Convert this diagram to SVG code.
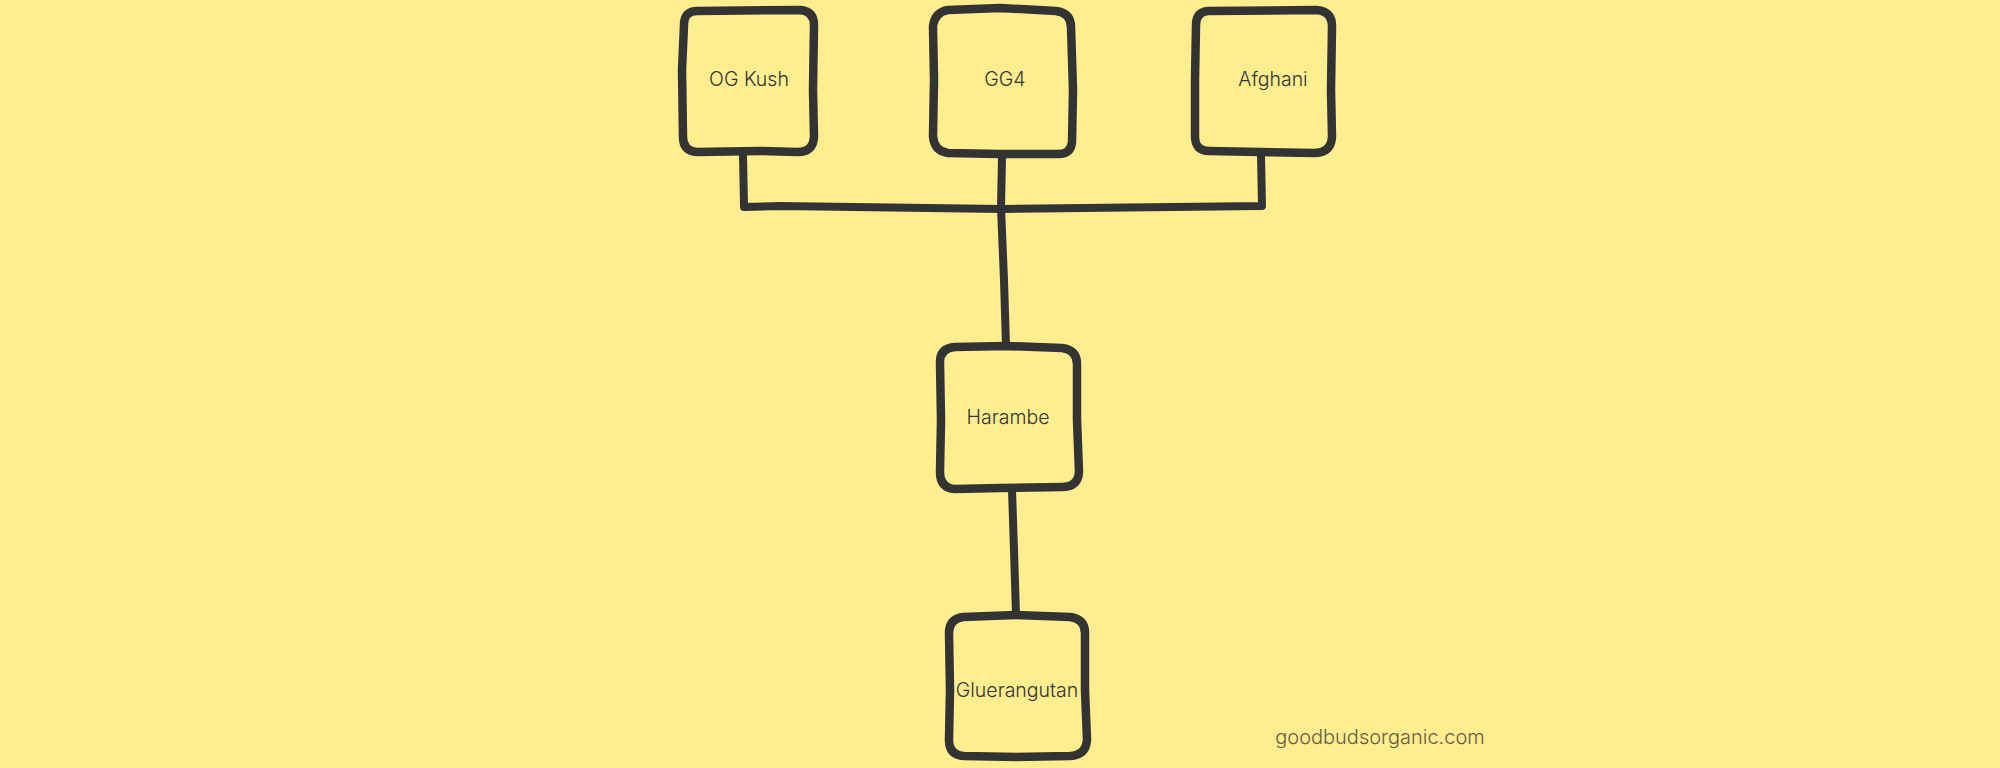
<svg xmlns="http://www.w3.org/2000/svg" width="2000" height="768" viewBox="0 0 2000 768">
<style>
.box{fill:none;stroke:#333333;stroke-width:8.5;stroke-linecap:round;stroke-linejoin:round}
.con{fill:none;stroke:#333333;stroke-width:8;stroke-linecap:round;stroke-linejoin:round}
.lbl{font-family:Inter,"Liberation Sans",sans-serif;font-size:19.5px;font-weight:300;fill:#333333;text-anchor:middle}
.foot{font-family:Inter,"Liberation Sans",sans-serif;font-size:20px;font-weight:300;fill:#6b5b3e;text-anchor:middle}
</style>
<rect width="2000" height="768" fill="#ffee90"/>
<g id="connectors">
<path class="con" d="M743 155 L744 207 L780 206 L1002 209 L1262 206 L1261 155"/>
<path class="con" d="M1002 157 L1001 208 L1004 280 L1006 346"/>
<path class="con" d="M1012 490 L1014 550 L1016 615"/>
</g>
<g id="og-kush">
<path class="box" d="M697 11 L800 10 Q814 11 814 25 L813 90 L814 137 Q813 152 798 152 L760 151 L697 152 Q683 151 683 137 L682 70 L684 25 Q684 11 697 11 Z"/>
<text class="lbl" x="749" y="86">OG Kush</text>
</g>
<g id="gg4">
<path class="box" d="M948 10 L1000 8 L1056 11 Q1071 13 1071 27 L1073 90 L1072 142 Q1071 155 1056 154 L1000 154 L948 153 Q934 151 933 136 L934 80 L933 26 Q935 12 948 10 Z"/>
<text class="lbl" x="1005" y="86">GG4</text>
</g>
<g id="afghani">
<path class="box" d="M1208 11 L1316 10 Q1332 11 1332 26 L1331 90 L1332 137 Q1331 153 1314 153 L1260 152 L1209 151 Q1195 151 1195 136 L1195 80 L1196 25 Q1196 12 1208 11 Z"/>
<text class="lbl" x="1273" y="86">Afghani</text>
</g>
<g id="harambe">
<path class="box" d="M955 347 L1006 346 L1062 348 Q1077 350 1077 364 L1077 420 L1079 472 Q1078 487 1062 487 L1000 488 L955 489 Q940 488 940 472 L941 420 L940 362 Q940 348 955 347 Z"/>
<text class="lbl" x="1008" y="424">Harambe</text>
</g>
<g id="gluerangutan">
<path class="box" d="M963 617 L1016 615 L1070 617 Q1085 619 1085 633 L1085 690 L1087 740 Q1086 755 1070 756 L1016 757 L964 756 Q949 755 949 740 L950 690 L949 633 Q949 619 963 617 Z"/>
<text class="lbl" x="1017" y="697">Gluerangutan</text>
</g>
<text class="foot" x="1380" y="744">goodbudsorganic.com</text>
</svg>
